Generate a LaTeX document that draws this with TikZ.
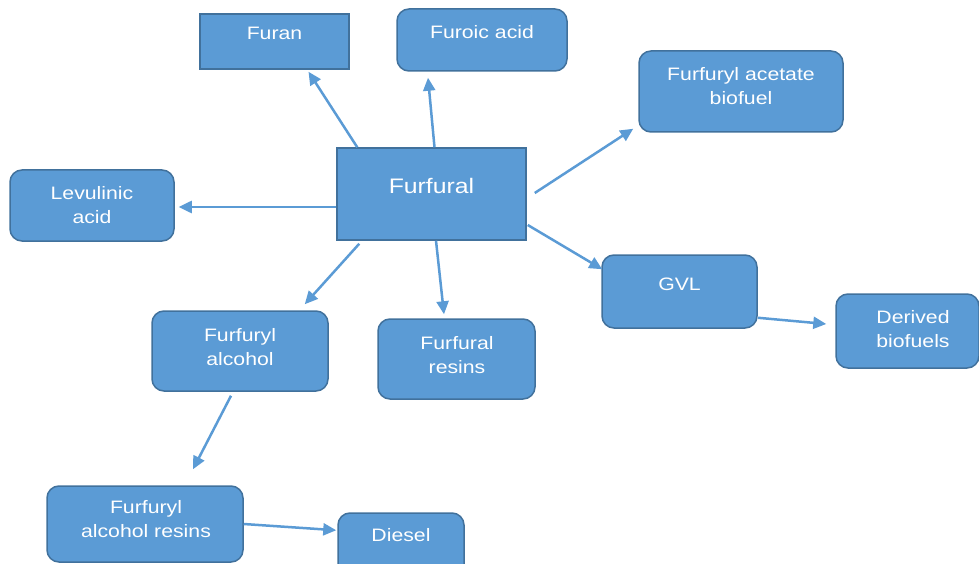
\documentclass[tikz,border=0pt]{standalone}
\usepackage{fontspec}
\setmainfont[FakeStretch=1.18]{Liberation Sans}
\usetikzlibrary{arrows.meta,calc}
\definecolor{boxblue}{HTML}{5B9BD5}
\definecolor{edgeblue}{HTML}{41719C}
\begin{document}
\begin{tikzpicture}[x=1pt,y=-1pt,>={Triangle[length=13pt,width=12pt]},
 box/.style={draw=edgeblue,line width=1.5pt,fill=boxblue,inner sep=0pt},
 rbox/.style={box,rounded corners=12pt},
 txt/.style={text=white,align=center,font=\fontsize{18}{24}\selectfont},
 arr/.style={->,draw=boxblue,line width=2.5pt}]
 \useasboundingbox (0,0) rectangle (979,564);
 \node[box,minimum width=149pt,minimum height=55pt] (furan) at (274.5,41.5) {};
 \node[rbox,minimum width=170pt,minimum height=62pt] (furoic) at (482,40) {};
 \node[rbox,minimum width=204pt,minimum height=81pt] (acetate) at (741,91.5) {};
 \node[box,minimum width=189pt,minimum height=92pt] (furfural) at (431.5,194) {};
 \node[rbox,minimum width=164pt,minimum height=71pt] (levulinic) at (92,205.5) {};
 \node[rbox,minimum width=155pt,minimum height=73pt] (gvl) at (679.5,291.5) {};
 \node[rbox,minimum width=143pt,minimum height=74pt] (derived) at (907.5,331) {};
 \node[rbox,minimum width=176pt,minimum height=80pt] (alcohol) at (240,351) {};
 \node[rbox,minimum width=157pt,minimum height=80pt] (resins) at (456.5,359) {};
 \node[rbox,minimum width=196pt,minimum height=76pt] (faresins) at (145,524) {};
 \node[rbox,minimum width=126pt,minimum height=72pt] (diesel) at (401,549) {};
 \node[txt] (furan-t) at (274.5,33) {Furan};
 \node[txt] (furoic-t) at (482,32) {Furoic acid};
 \node[txt] (acetate-t) at (741,86.5) {Furfuryl acetate\\biofuel};
 \node[txt,font=\fontsize{21}{24}\selectfont] (furfural-t) at (431.5,186) {Furfural};
 \node[txt] (levulinic-t) at (92,205) {Levulinic\\acid};
 \node[txt] (gvl-t) at (679.5,284) {GVL};
 \node[txt] (derived-t) at (913,329) {Derived\\biofuels};
 \node[txt] (alcohol-t) at (240,347.5) {Furfuryl\\alcohol};
 \node[txt] (resins-t) at (457,355) {Furfural\\resins};
 \node[txt] (faresins-t) at (146,519.5) {Furfuryl\\alcohol resins};
 \node[txt] (diesel-t) at (401,535) {Diesel};
 \draw[arr] ($(furfural.north west)+(21,0)$) -- ($(furan.south)+(34,2)$);
 \draw[arr] ($(furfural.north)+(3,0)$) -- ($(furoic.south)+(-54,6)$);
 \draw[arr] ($(furfural.east)+(8,-1)$) -- ($(acetate.south west)+(-5,-4)$);
 \draw[arr] ($(furfural.west)+(0,13)$) -- ($(levulinic.east)+(4,1.5)$);
 \draw[arr] ($(furfural.east)+(1,31)$) -- ($(gvl.north west)+(1,15)$);
 \draw[arr] ($(furfural.south)+(4.5,0)$) -- ($(resins.north)+(-12.5,-4)$);
 \draw[arr] ($(furfural.south west)+(23,3)$) -- ($(alcohol.north east)+(-24,-6)$);
 \draw[arr] ($(alcohol.south)+(-9,4)$) -- ($(faresins.north)+(48,-16)$);
 \draw[arr] (faresins.east) -- ($(diesel.north west)+(-1,18)$);
 \draw[arr] ($(gvl.south east)+(0,-11)$) -- ($(derived.west)+(-9,-7)$);
\end{tikzpicture}
\end{document}
